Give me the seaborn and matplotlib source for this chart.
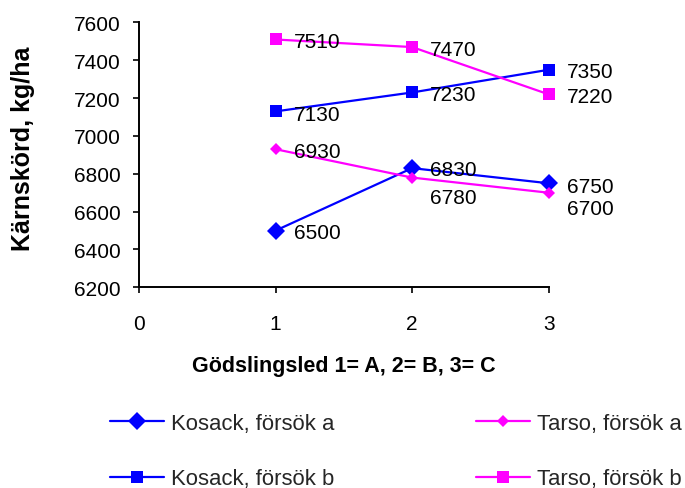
import matplotlib
matplotlib.use("Agg")
import matplotlib.pyplot as plt
import seaborn as sns

# Gödslingsled (fertilisation level) and yields per variety/trial
levels = [1, 2, 3]
kosack_a = [6500, 6830, 6750]
tarso_a = [6930, 6780, 6700]
kosack_b = [7130, 7230, 7350]
tarso_b = [7510, 7470, 7220]

series_names = ["Kosack, försök a", "Kosack, försök b", "Tarso, försök a", "Tarso, försök b"]
x_ticks = [0, 1, 2, 3]
y_ticks = [6200, 6400, 6600, 6800, 7000, 7200, 7400, 7600]

sns.set_theme(style="ticks")
plt.rcParams["font.family"] = ["Liberation Sans", "DejaVu Sans"]

BLUE = "#0000FF"
MAGENTA = "#FF00FF"

fig = plt.figure(figsize=(6.85, 4.89), dpi=100)
ax = fig.add_axes([0.203, 0.4104, 0.598, 0.5416])

styles = [
    (kosack_a, BLUE, "D", 9.0),
    (kosack_b, BLUE, "s", 8.5),
    (tarso_a, MAGENTA, "D", 6.0),
    (tarso_b, MAGENTA, "s", 8.5),
]
for (vals, color, marker, ms), name in zip(styles, series_names):
    sns.lineplot(x=levels, y=vals, color=color, marker=marker, markersize=ms,
                 markeredgewidth=0, linewidth=1.6, ax=ax, label=name, clip_on=False)

# value labels right of each point (vertical nudge in points, downward)
label_sets = [
    (kosack_a, [-1.5, -1, -2]),
    (kosack_b, [-2, -1.5, -1.5]),
    (tarso_a, [-1.5, -14.5, -11.5]),
    (tarso_b, [-1.5, -2, -1.5]),
]
for vals, dys in label_sets:
    for xv, yv, dy in zip(levels, vals, dys):
        ax.annotate(f"{yv}", (xv, yv), xytext=(13, dy), textcoords="offset points",
                    ha="left", va="center", fontsize=15, color="black")

ax.set_xlim(0, 3)
ax.set_ylim(6200, 7600)
ax.set_xticks(x_ticks)
ax.set_yticks(y_ticks)
ax.tick_params(axis="both", labelsize=15, length=4, width=1.2, color="black",
               labelcolor="black")
ax.tick_params(axis="y", pad=9)
ax.tick_params(axis="x", pad=15)
for side in ["top", "right"]:
    ax.spines[side].set_visible(False)
for side in ["left", "bottom"]:
    ax.spines[side].set_color("black")
    ax.spines[side].set_linewidth(1.4)

ax.set_xlabel("Gödslingsled 1= A, 2= B, 3= C", fontsize=15.5, fontweight="bold",
              color="black", labelpad=16)
ax.set_ylabel("Kärnskörd, kg/ha", fontsize=18, fontweight="bold", color="black")
ax.yaxis.set_label_coords(-0.253, 0.526)

handles, labels = ax.get_legend_handles_labels()
ax.get_legend().remove()
fig.legend(handles, labels, ncol=2, frameon=False, loc="upper left",
           bbox_to_anchor=(110 / 685, 1 - 414 / 489), fontsize=15.9,
           handlelength=2.44, handletextpad=0.32, columnspacing=6.43,
           labelspacing=1.55, borderpad=0, borderaxespad=0)

fig.savefig("out.png", dpi=100)
